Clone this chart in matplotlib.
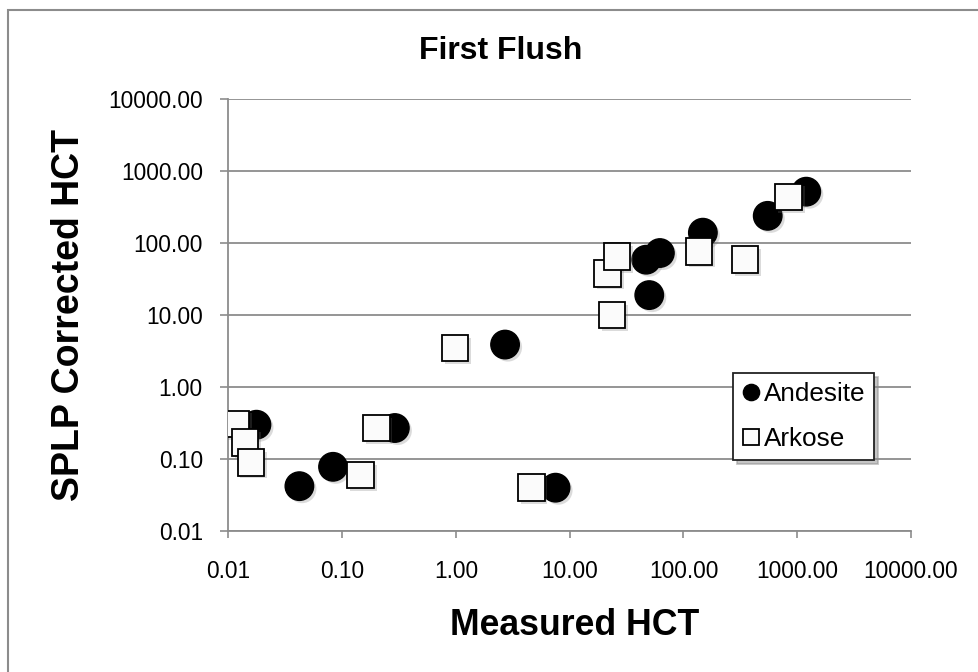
import matplotlib.pyplot as plt
import matplotlib.patheffects as pe
from matplotlib.patches import Rectangle
from matplotlib.ticker import FixedLocator, FixedFormatter, NullLocator

plt.rcParams['font.family'] = ['Liberation Sans', 'DejaVu Sans']

# values (log-log)
andesite_x = [0.0176, 0.042, 0.083, 0.29, 7.5, 2.7, 50, 47, 62, 148, 550, 1200]
andesite_y = [0.30, 0.042, 0.078, 0.27, 0.040, 3.9, 19, 59, 73, 140, 240, 520]

arkose_x = [0.0116, 0.014, 0.0157, 0.20, 0.145, 4.6, 0.98, 23.5, 21.5, 26, 137, 348, 840]
arkose_y = [0.31, 0.17, 0.09, 0.27, 0.06, 0.040, 3.5, 10, 38, 65, 77, 59, 440]

ticks = [0.01, 0.1, 1, 10, 100, 1000, 10000]
tick_labels = ["%.2f" % t for t in ticks]

W, H = 979, 672
fig = plt.figure(figsize=(W / 100, H / 100), dpi=100)
fig.patch.set_facecolor("white")

# chart area border (runs off the right/bottom of the picture)
fig.add_artist(Rectangle((8.5 / W, -0.5), 2, 1 - 10 / H + 0.5, transform=fig.transFigure,
                         fill=False, edgecolor="#8c8c8c", lw=1.5))

left, right, top, bottom = 228.5, 911, 99.3, 531
ax = fig.add_axes([left / W, 1 - bottom / H, (right - left) / W, (bottom - top) / H])

shadow = [pe.SimplePatchShadow(offset=(2, -2), shadow_rgbFace="0.45", alpha=0.25), pe.Normal()]

ax.plot(andesite_x, andesite_y, linestyle="none", marker="o", markersize=20.5,
        markerfacecolor="black", markeredgecolor="black", markeredgewidth=1,
        label="Andesite", path_effects=shadow, zorder=3)
ax.plot(arkose_x, arkose_y, linestyle="none", marker="s", markersize=19,
        markerfacecolor="#fbfbfb", markeredgecolor="black", markeredgewidth=1.3,
        label="Arkose", path_effects=shadow, zorder=4)

ax.set_xscale("log")
ax.set_yscale("log")
ax.set_xlim(0.01, 10000)
ax.set_ylim(0.01, 10000)

for axis in (ax.xaxis, ax.yaxis):
    axis.set_major_locator(FixedLocator(ticks))
    axis.set_major_formatter(FixedFormatter(tick_labels))
    axis.set_minor_locator(NullLocator())

ax.tick_params(axis="x", direction="out", length=5, width=1.2, color="#8c8c8c",
               labelsize=16.4, pad=16)
ax.tick_params(axis="y", direction="out", length=5.5, width=1.2, color="#8c8c8c",
               labelsize=16.4, pad=13)

ax.grid(axis="y", color="#8c8c8c", lw=1.3)
ax.set_axisbelow(True)
for s in ("top", "right"):
    ax.spines[s].set_visible(False)
for s in ("left", "bottom"):
    ax.spines[s].set_color("#8c8c8c")
    ax.spines[s].set_linewidth(1.3)

fig.text(500.5 / W, 1 - 59.3 / H, "First Flush", ha="center", va="baseline",
         fontsize=23, fontweight="bold")
fig.text(574.5 / W, 1 - 635 / H, "Measured HCT", ha="center", va="baseline",
         fontsize=25.7, fontweight="bold")
fig.text(79 / W, 1 - 315 / H, "SPLP Corrected HCT", ha="center", va="baseline",
         rotation=90, rotation_mode="anchor", fontsize=27, fontweight="bold")

leg = ax.legend(loc="upper left", bbox_to_anchor=(733.3 / W, 1 - 373.3 / H),
                bbox_transform=fig.transFigure, borderaxespad=0, fontsize=18.8,
                markerscale=0.57, handlelength=0.7, handletextpad=0.15,
                borderpad=0.33, labelspacing=0.82, fancybox=False, frameon=True,
                shadow={"color": "0.55", "alpha": 0.5, "ox": 3, "oy": -3})
leg.get_frame().set_edgecolor("#222222")
leg.get_frame().set_linewidth(1.3)
for h in leg.legend_handles:
    h.set_path_effects([])

fig.savefig("out.png", dpi=100, facecolor="white")
